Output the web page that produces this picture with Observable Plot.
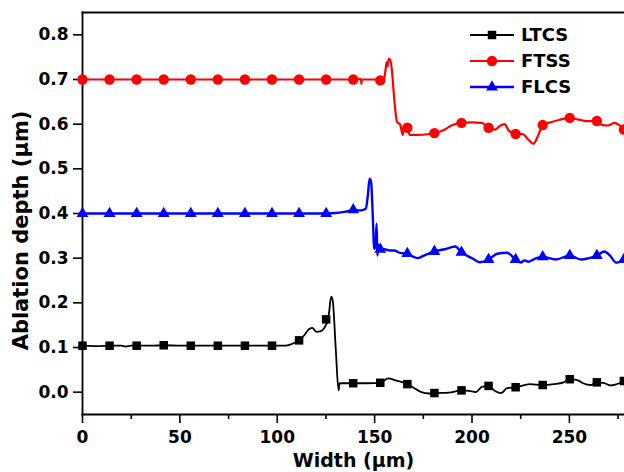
<!DOCTYPE html>
<html>
<head>
<meta charset="utf-8">
<script src="https://cdn.jsdelivr.net/npm/d3@7"></script>
<script src="https://cdn.jsdelivr.net/npm/@observablehq/plot@0.6"></script>
<style>
  html, body { margin: 0; padding: 0; background: #fff; }
  #wrap { position: relative; width: 624px; height: 472px; overflow: hidden; }
  #legend { position: absolute; left: 0; top: 0; }
</style>
</head>
<body>
<div id="wrap"></div>
<script>
// ---- data ----
const seriesNames = ["LTCS", "FTSS", "FLCS"];
const seriesColors = ["#000000", "#ff0000", "#0000ff"];
const seriesSymbols = ["square", "circle", "triangle"];

const xTicks = [0, 50, 100, 150, 200, 250];
const xMinorTicks = [25, 75, 125, 175, 225, 275];
const yTicks = [0.0, 0.1, 0.2, 0.3, 0.4, 0.5, 0.6, 0.7, 0.8];

// LTCS curve
const ltcsX = [0,8,14,20,22,25,35,42,50,60,70,80,90,97,104,107,111,114,116,118,120,122,125,126.5,127.7,128.5,130,131.5,132,139,146,153,157,161,166,170,174,178,181,188,194.6,200,202,205,208.5,212,215,218,222.4,229.7,236,242,247,250,254,257,261,264,268,271,278.3];
const ltcsY = [0.104,0.103,0.104,0.104,0.102,0.104,0.104,0.105,0.104,0.104,0.104,0.104,0.104,0.104,0.104,0.107,0.116,0.128,0.14,0.144,0.135,0.136,0.15,0.175,0.214,0.205,0.1,0.004,0.02,0.02,0.02,0.021,0.031,0.026,0.02,0.01,0.0,-0.003,-0.002,-0.001,0.004,0.002,0.0,0.012,0.014,0.002,-0.002,0.009,0.011,0.018,0.016,0.018,0.022,0.029,0.027,0.02,0.016,0.022,0.02,0.015,0.025];

// FTSS curve
const ftssX = [0,20,40,60,80,100,120,140,143,143.2,143.5,150,153,155,155.7,156.2,156.7,157.2,158,159,160,161.5,163,164.5,165,166.8,168,172,178,180.7,185,190,194.6,200,205,208.5,212,214,216.7,219,222.4,226,229,231.5,234,236.3,241,245,250.2,255,259,264.1,267,270,273,278.3];
const ftssY = [0.7,0.7,0.7,0.7,0.7,0.7,0.7,0.7,0.701,0.69,0.7,0.7,0.698,0.704,0.725,0.739,0.73,0.746,0.744,0.715,0.66,0.605,0.6,0.576,0.595,0.592,0.576,0.576,0.578,0.58,0.586,0.598,0.603,0.604,0.603,0.592,0.588,0.595,0.6,0.585,0.578,0.578,0.565,0.556,0.575,0.598,0.605,0.61,0.614,0.61,0.607,0.607,0.598,0.597,0.603,0.588];

// FLCS curve
const flcsX = [0,20,40,60,80,100,120,125,130,135,139,143,145.5,146.5,147.4,148.2,149,149.8,150.5,151,151.4,152,152.9,155,158,160,163,166.8,170,172,175,180.7,186,191.4,194.6,200,204,208.5,213,218,222.4,225,227,229,233,236.3,243,250.2,256,260,264.1,268,271,274,278.3];
const flcsY = [0.4,0.4,0.4,0.4,0.4,0.4,0.4,0.4,0.401,0.404,0.407,0.407,0.411,0.44,0.478,0.47,0.4,0.321,0.33,0.377,0.306,0.33,0.32,0.32,0.317,0.317,0.312,0.31,0.303,0.3,0.305,0.315,0.32,0.326,0.313,0.3,0.291,0.297,0.31,0.312,0.297,0.29,0.295,0.292,0.3,0.303,0.297,0.306,0.297,0.3,0.306,0.315,0.305,0.29,0.297];

// Symbol markers
const markerX = [0,13.9,27.8,41.7,55.6,69.5,83.4,97.3,111.2,125.1,139,152.9,166.8,180.7,194.6,208.5,222.4,236.3,250.2,264.1,278];
const ltcsMarkY = [0.104,0.104,0.104,0.105,0.104,0.104,0.104,0.104,0.116,0.163,0.02,0.021,0.018,-0.002,0.004,0.014,0.011,0.016,0.029,0.022,0.025];
const ftssMarkY = [0.7,0.7,0.7,0.7,0.7,0.7,0.7,0.7,0.7,0.7,0.7,0.698,0.592,0.58,0.603,0.592,0.578,0.598,0.614,0.607,0.588];
const flcsMarkY = [0.4,0.4,0.4,0.4,0.4,0.4,0.4,0.4,0.4,0.4,0.408,0.32,0.31,0.315,0.313,0.297,0.297,0.303,0.306,0.306,0.297];

// ---- build ----
const zipXY = (xs, ys) => xs.map((x, i) => ({x, y: ys[i]}));
const curves = [zipXY(ltcsX, ltcsY), zipXY(ftssX, ftssY), zipXY(flcsX, flcsY)];
const marks = [zipXY(markerX, ltcsMarkY), zipXY(markerX, ftssMarkY), zipXY(markerX, flcsMarkY)];
const markR = [4.8, 5.2, 4.4];
const lineW = [1.8, 2.2, 2.4];

const font = "DejaVu Sans";

const chart = Plot.plot({
  width: 624,
  height: 472,
  marginLeft: 82,
  marginRight: 0,
  marginTop: 12,
  marginBottom: 58,
  style: {fontFamily: font, fontWeight: "bold", fontSize: "17px", color: "#000", background: "#fff"},
  x: {domain: [0, 278.3]},
  y: {domain: [-0.05, 0.85]},
  marks: [
    Plot.frame({anchor: "top", strokeWidth: 1.8}),
    Plot.frame({anchor: "left", strokeWidth: 1.8}),
    Plot.frame({anchor: "bottom", strokeWidth: 1.8}),
    Plot.axisX({ticks: xTicks, tickSize: 9, tickPadding: 7, tickFormat: d3.format("d"), strokeWidth: 1.6, fontSize: 17, label: null}),
    Plot.axisX({ticks: xMinorTicks, tickSize: 5, text: null, strokeWidth: 1.6, label: null}),
    Plot.axisY({ticks: yTicks, tickSize: 9, tickPadding: 5, tickFormat: d3.format(".1f"), strokeWidth: 1.6, fontSize: 17, label: null}),
    ...curves.map((c, i) => Plot.line(c, {x: "x", y: "y", stroke: seriesColors[i], strokeWidth: lineW[i], curve: "monotone-x"})),
    ...marks.map((m, i) => Plot.dot(m, {x: "x", y: "y", symbol: () => seriesSymbols[i], fill: seriesColors[i], stroke: "none", r: markR[i]})),
    Plot.text(["Width (μm)"], {frameAnchor: "bottom", dy: 52, lineAnchor: "bottom", textAnchor: "middle", fontSize: 19, fontWeight: "bold"}),
    Plot.text(["Ablation depth (μm)"], {frameAnchor: "left", dx: -55, dy: 17, rotate: -90, lineAnchor: "bottom", textAnchor: "middle", fontSize: 21, fontWeight: "bold"})
  ]
});
const wrap = document.getElementById("wrap");
wrap.appendChild(chart);

// legend overlay
const leg = d3.select(wrap).append("svg").attr("id", "legend").attr("width", 624).attr("height", 120);
const rowsY = [35, 61, 87];
seriesNames.forEach((name, i) => {
  const g = leg.append("g").attr("transform", `translate(0,${rowsY[i]})`);
  g.append("line").attr("x1", 470).attr("x2", 514).attr("y1", 0).attr("y2", 0)
    .attr("stroke", seriesColors[i]).attr("stroke-width", lineW[i]);
  const sym = {square: d3.symbolSquare, circle: d3.symbolCircle, triangle: d3.symbolTriangle}[seriesSymbols[i]];
  g.append("path").attr("d", d3.symbol(sym, Math.PI * markR[i] * markR[i])())
    .attr("transform", "translate(492,0)").attr("fill", seriesColors[i]);
  g.append("text").attr("x", 521).attr("y", 0).attr("dy", "0.36em")
    .attr("font-family", font).attr("font-weight", "bold").attr("font-size", 18).text(name);
});
</script>
</body>
</html>
